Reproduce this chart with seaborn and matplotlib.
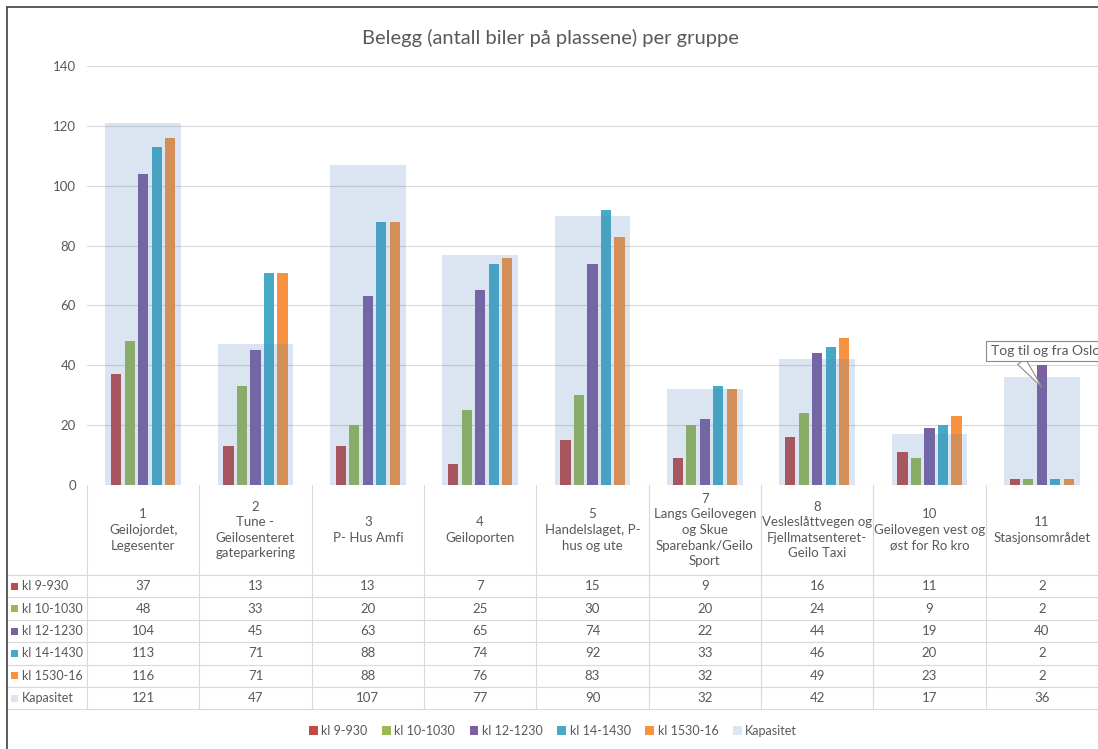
import matplotlib
matplotlib.use("Agg")
import matplotlib.pyplot as plt
import matplotlib.transforms as mtransforms
from matplotlib.lines import Line2D
from matplotlib.patches import Rectangle, Patch
import numpy as np
import pandas as pd
import seaborn as sns

# ---------------- data ----------------
group_keys = ["1", "2", "3", "4", "5", "7", "8", "10", "11"]
group_labels = [
    "1\nGeilojordet,\nLegesenter",
    "2\nTune -\nGeilosenteret\ngateparkering",
    "3\nP- Hus Amfi",
    "4\nGeiloporten",
    "5\nHandelslaget, P-\nhus og ute",
    "7\nLangs Geilovegen\nog Skue\nSparebank/Geilo\nSport",
    "8\nVesleslåttvegen og\nFjellmatsenteret-\nGeilo Taxi",
    "10\nGeilovegen vest og\nøst for Ro kro",
    "11\nStasjonsområdet",
]
series_names = ["kl 9-930", "kl 10-1030", "kl 12-1230", "kl 14-1430", "kl 1530-16"]
kl_9_930 = [37, 13, 13, 7, 15, 9, 16, 11, 2]
kl_10_1030 = [48, 33, 20, 25, 30, 20, 24, 9, 2]
kl_12_1230 = [104, 45, 63, 65, 74, 22, 44, 19, 40]
kl_14_1430 = [113, 71, 88, 74, 92, 33, 46, 20, 2]
kl_1530_16 = [116, 71, 88, 76, 83, 32, 49, 23, 2]
kapasitet = [121, 47, 107, 77, 90, 32, 42, 17, 36]
kap_name = "Kapasitet"
title = "Belegg (antall biler på plassene) per gruppe"
annotation_text = "Tog til og fra Oslo"
y_ticks = [0, 20, 40, 60, 80, 100, 120, 140]

series_values = [kl_9_930, kl_10_1030, kl_12_1230, kl_14_1430, kl_1530_16]
colors = ["#BE4B48", "#98B954", "#7D60A0", "#46AAC5", "#F69240"]
kap_color = "#4F81BD"
kap_alpha = 0.2
text_color = "#595959"
grid_color = "#D9D9D9"

rows = []
for name, vals in zip(series_names, series_values):
    for k, v in zip(group_keys, vals):
        rows.append({"gruppe": k, "serie": name, "antall": v})
df = pd.DataFrame(rows)
df_kap = pd.DataFrame({"gruppe": group_keys, "antall": kapasitet})

# ---------------- figure ----------------
sns.set_style("white")
plt.rcParams["font.family"] = ["Lato", "DejaVu Sans"]

W, H = 1098, 749
fig = plt.figure(figsize=(W / 100, H / 100), dpi=100)
fx = lambda px: px / W
fy = lambda py: 1 - py / H

ax_l, ax_r, ax_t, ax_b = 87, 1098, 66, 485
ax = fig.add_axes([fx(ax_l), fy(ax_b), fx(ax_r - ax_l), (ax_b - ax_t) / H])

sns.barplot(data=df, x="gruppe", y="antall", hue="serie", order=group_keys,
            hue_order=series_names, palette=colors, width=0.6, gap=0.25,
            saturation=1, errorbar=None, linewidth=0, legend=False, ax=ax, zorder=2)
sns.barplot(data=df_kap, x="gruppe", y="antall", order=group_keys, color=kap_color,
            alpha=kap_alpha, width=0.675, saturation=1, errorbar=None, linewidth=0,
            ax=ax, zorder=3)

ax.set_xlim(-0.5, len(group_keys) - 0.5)
ax.set_ylim(0, 140)
ax.set_yticks(y_ticks)
ax.set_xticks([])
ax.set_xlabel("")
ax.set_ylabel("")
ax.tick_params(axis="y", length=0, pad=8, labelsize=9.5, labelcolor=text_color)
for s in ax.spines.values():
    s.set_visible(False)
ax.set_axisbelow(True)
ax.yaxis.grid(True, color=grid_color, lw=0.8)

# annotation (callout)
ax.annotate(annotation_text, xy=(8, 32.7), xytext=(8.03, 44.8), textcoords="data",
            ha="center", va="center", fontsize=10, color=text_color, zorder=10,
            bbox=dict(boxstyle="square,pad=0.3", fc="white", ec="#8C8C8C", lw=0.8),
            arrowprops=dict(arrowstyle="wedge,tail_width=0.7", fc="white", ec="#8C8C8C",
                            lw=0.8, shrinkA=0, shrinkB=0, relpos=(0.25, 0.0)),
            annotation_clip=False)

# ---------------- title ----------------
fig.text(fx(550), fy(38), title, ha="center", va="center", fontsize=14.5, color=text_color)

# ---------------- data table ----------------
blend = mtransforms.blended_transform_factory(ax.transData, fig.transFigure)
row_lines = [575 + i * 22.4 for i in range(7)]
line_kw = dict(color=grid_color, lw=0.8)

# horizontal table lines
for yl in row_lines:
    fig.add_artist(Line2D([fx(7), fx(W)], [fy(yl), fy(yl)], **line_kw))
# vertical lines at category boundaries
for b in np.arange(-0.5, len(group_keys), 1.0):
    fig.add_artist(Line2D([b, b], [fy(ax_b), fy(row_lines[-1])], transform=blend, **line_kw))

# headers
for i, lab in enumerate(group_labels):
    fig.text(i, fy(530), lab, transform=blend, ha="center", va="center",
             fontsize=9.5, color=text_color, linespacing=1.36)

# values and row labels
table_series = series_values + [kapasitet]
table_names = series_names + [kap_name]
table_colors = colors + ["#DCE6F2"]
for r, (name, vals, col) in enumerate(zip(table_names, table_series, table_colors)):
    yc = (row_lines[r] + row_lines[r + 1]) / 2
    for i, v in enumerate(vals):
        fig.text(i, fy(yc), str(v), transform=blend, ha="center", va="center",
                 fontsize=9.5, color=text_color)
    fig.add_artist(Rectangle((fx(11), fy(yc + 3.5)), fx(7), 7 / H, facecolor=col,
                             edgecolor="none", transform=fig.transFigure))
    fig.text(fx(22), fy(yc), name, ha="left", va="center", fontsize=9, color=text_color)

# ---------------- legend ----------------
handles = [Patch(facecolor=c, edgecolor="none", label=n) for c, n in zip(colors, series_names)]
handles.append(Patch(facecolor="#DCE6F2", edgecolor="none", label=kap_name))
fig.legend(handles=handles, loc="center", bbox_to_anchor=(fx(553), fy(731)), ncol=6,
           frameon=False, fontsize=9, handlelength=0.7, handleheight=0.7,
           handletextpad=0.3, columnspacing=1.15, labelcolor=text_color)

# chart border (left and top visible)
fig.add_artist(Line2D([fx(7), fx(7)], [fy(7), fy(H)], color="#404040", lw=1.2))
fig.add_artist(Line2D([fx(7), fx(W)], [fy(7), fy(7)], color="#404040", lw=1.2))

fig.savefig("out.png", dpi=100, facecolor="white")
